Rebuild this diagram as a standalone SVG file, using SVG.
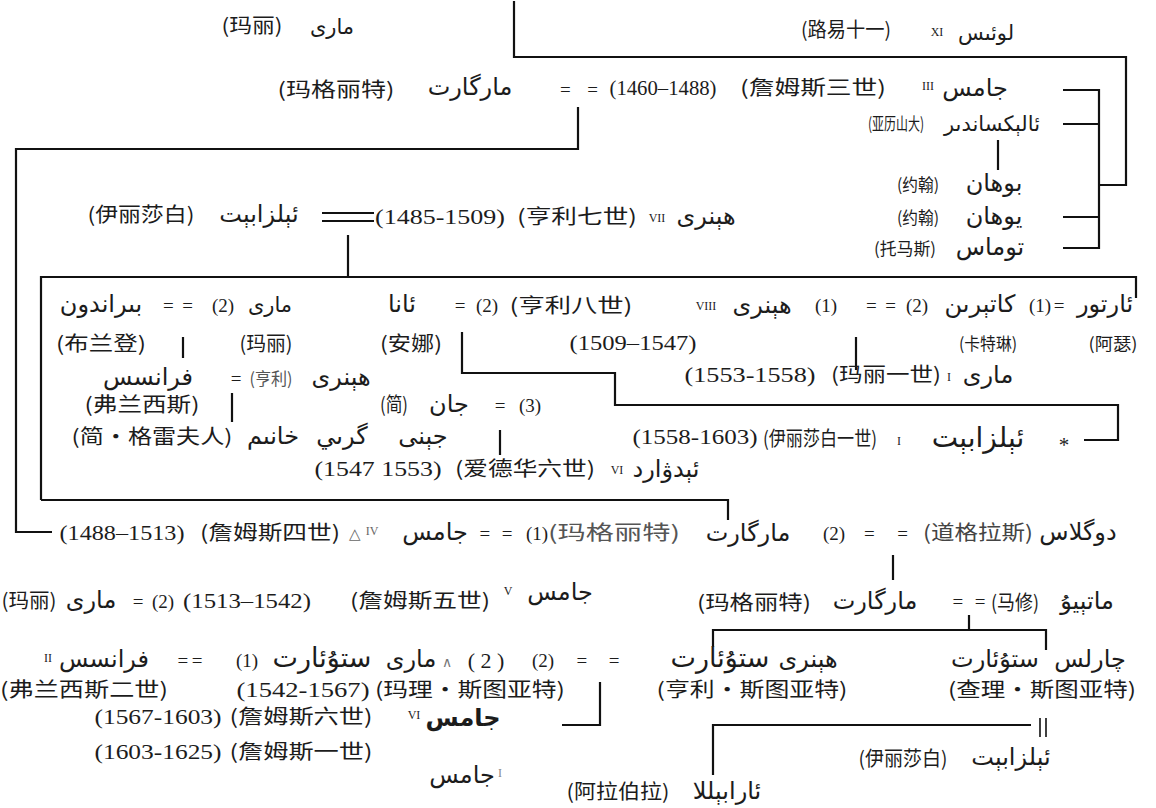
<svg xmlns="http://www.w3.org/2000/svg" width="1156" height="808" viewBox="0 0 1156 808">
<style>
text{text-anchor:middle;fill:#1c1c1c}
.zh{font-family:"Noto Sans CJK SC",sans-serif;font-size:20px}
.zs{font-family:"Noto Sans CJK SC",sans-serif;font-size:17px}
.num{font-family:"Liberation Serif",serif;font-size:21px}
.ar{font-family:"DejaVu Sans",sans-serif;font-size:21px}
.al{font-family:"DejaVu Sans",sans-serif;font-size:24px}
.rn{font-family:"Liberation Serif",serif;font-size:12px}
.eq{font-family:"Liberation Serif",serif;font-size:19px}
.sm{font-size:19px}
.ln{fill:none;stroke:#111;stroke-width:2.2}
</style>
<rect width="1156" height="808" fill="#fff"/>
<g id="connectors" class="ln">
<path d="M514,1V57H1126V185H1099"/>
<path d="M1063,90H1099V248H1063M1063,124H1099M1063,217H1099"/>
<path d="M998,140V170"/>
<path d="M578,107V149H16V532H52"/>
<path d="M322,213H374M322,221H374"/>
<path d="M348,235V277"/>
<path d="M41,500V277H1136V298"/>
<path d="M41,500H728V520"/>
<path d="M183,337V358"/>
<path d="M232,393V422"/>
<path d="M462,332V373H615V405H1118V440H1084"/>
<path d="M856,337V370"/>
<path d="M500,430V455"/>
<path d="M893,555V580"/>
<path d="M969,615V630"/>
<path d="M713,647V630H1046V650"/>
<path d="M600,682V725H562"/>
<path d="M713,775V725H1031"/>
<path d="M1040,718V737M1046,718V737" style="stroke-width:1.6"/>
</g>
<g id="marriages">
<text class="eq" x="579" y="96" textLength="38">= =</text>
<text class="eq" x="178" y="312" textLength="30">= =</text>
<text class="num sm" x="223" y="312">(2)</text>
<text class="eq" x="460" y="312">=</text>
<text class="num sm" x="487" y="312">(2)</text>
<text class="num sm" x="826" y="312">(1)</text>
<text class="eq" x="881" y="312" textLength="30">= =</text>
<text class="num sm" x="917" y="312">(2)</text>
<text class="num sm" x="1040" y="312">(1)</text>
<text class="eq" x="1059" y="312">=</text>
<text class="eq" x="236" y="385">=</text>
<text class="eq" x="500" y="412">=</text>
<text class="num sm" x="530" y="412">(3)</text>
<text class="eq" x="496" y="540" textLength="33">= =</text>
<text class="num sm" x="537" y="540">(1)</text>
<text class="num sm" x="834" y="540">(2)</text>
<text class="eq" x="886" y="540" textLength="44">= =</text>
<text class="eq" x="138" y="608">=</text>
<text class="num sm" x="163" y="608">(2)</text>
<text class="eq" x="969" y="608" textLength="33">= =</text>
<text class="eq" x="190" y="667" textLength="25">= =</text>
<text class="num sm" x="247" y="667">(1)</text>
<text class="eq" x="447" y="667" style="font-size:14px;fill:#777">∧</text>
<text class="num" x="486" y="668" style="font-size:22px">( 2 )</text>
<text class="num sm" x="543" y="667">(2)</text>
<text class="eq" x="598" y="667" textLength="43">= =</text>
</g>
<g id="n-mary-york"><text class="zh" x="252" y="33" textLength="61" lengthAdjust="spacingAndGlyphs">(玛丽)</text><text class="ar" x="332" y="34">مارى</text></g>
<g id="n-louis-xi"><text class="zh" x="846" y="37" textLength="90" lengthAdjust="spacingAndGlyphs">(路易十一)</text><text class="rn" x="937" y="36">XI</text><text class="ar" x="986" y="40">لوئىس</text></g>
<g id="n-margaret-denmark"><text class="zh" x="336" y="97" textLength="117" lengthAdjust="spacingAndGlyphs">(玛格丽特)</text><text class="al" x="470" y="95">مارگارت</text></g>
<g id="n-james-iii"><text class="num" x="663" y="95" textLength="107" lengthAdjust="spacingAndGlyphs">(1460–1488)</text><text class="zh" x="813" y="95" textLength="146" lengthAdjust="spacingAndGlyphs">(詹姆斯三世)</text><text class="rn" x="928" y="90">III</text><text class="al" x="975" y="96">جامس</text></g>
<g id="n-alexander"><text class="zs" x="896" y="130" textLength="56" lengthAdjust="spacingAndGlyphs">(亚历山大)</text><text class="ar" x="992" y="131">ئالېكساندىر</text></g>
<g id="n-john-1"><text class="zs" x="918" y="191" textLength="42" lengthAdjust="spacingAndGlyphs">(约翰)</text><text class="al" x="994" y="191">بوهان</text></g>
<g id="n-john-2"><text class="zs" x="918" y="224" textLength="42" lengthAdjust="spacingAndGlyphs">(约翰)</text><text class="al" x="994" y="224">يوهان</text></g>
<g id="n-thomas"><text class="zs" x="905" y="255" textLength="62" lengthAdjust="spacingAndGlyphs">(托马斯)</text><text class="al" x="990" y="255">توماس</text></g>
<g id="n-elizabeth-york"><text class="zh" x="141" y="222" textLength="107" lengthAdjust="spacingAndGlyphs">(伊丽莎白)</text><text class="al" x="259" y="222">ئېلزابېت</text></g>
<g id="n-henry-vii"><text class="num" x="440" y="224" textLength="130" lengthAdjust="spacingAndGlyphs">(1485-1509)</text><text class="zh" x="577" y="224" textLength="120" lengthAdjust="spacingAndGlyphs">(亨利七世)</text><text class="rn" x="657" y="222">VII</text><text class="al" x="706" y="224">هېنرى</text></g>
<g id="n-brandon"><text class="al" x="101" y="312">بىراندون</text><text class="zh" x="101" y="351" textLength="90" lengthAdjust="spacingAndGlyphs">(布兰登)</text></g>
<g id="n-mary-tudor"><text class="ar" x="270" y="312">مارى</text><text class="zh" x="266" y="351" textLength="53" lengthAdjust="spacingAndGlyphs">(玛丽)</text></g>
<g id="n-anne"><text class="al" x="402" y="312">ئانا</text><text class="zh" x="411" y="351" textLength="62" lengthAdjust="spacingAndGlyphs">(安娜)</text></g>
<g id="n-henry-viii"><text class="zh" x="571" y="313" textLength="123" lengthAdjust="spacingAndGlyphs">(亨利八世)</text><text class="rn" x="706" y="310">VIII</text><text class="al" x="762" y="313">هېنرى</text><text class="num" x="633" y="350" textLength="127" lengthAdjust="spacingAndGlyphs">(1509–1547)</text></g>
<g id="n-catherine"><text class="al" x="980" y="312">كاتېرىن</text><text class="zs" x="988" y="350" textLength="58" lengthAdjust="spacingAndGlyphs">(卡特琳)</text></g>
<g id="n-arthur"><text class="al" x="1105" y="312">ئارتور</text><text class="zs" x="1113" y="350" textLength="49" lengthAdjust="spacingAndGlyphs">(阿瑟)</text></g>
<g id="n-frances"><text class="al" x="148" y="385">فرانسس</text><text class="zh" x="142" y="412" textLength="115" lengthAdjust="spacingAndGlyphs">(弗兰西斯)</text></g>
<g id="n-henry-grey"><text class="zs" x="271" y="385" textLength="43" lengthAdjust="spacingAndGlyphs" style="fill:#555">(亨利)</text><text class="al" x="341" y="385">هېنرى</text></g>
<g id="n-mary-i"><text class="num" x="750" y="382" textLength="131" lengthAdjust="spacingAndGlyphs">(1553-1558)</text><text class="zh" x="886" y="382" textLength="110" lengthAdjust="spacingAndGlyphs">(玛丽一世)</text><text class="rn" x="949" y="381">I</text><text class="al" x="988" y="383">مارى</text></g>
<g id="n-jane-seymour"><text class="zh" x="394" y="412" textLength="28" lengthAdjust="spacingAndGlyphs">(简)</text><text class="al" x="449" y="412">جان</text></g>
<g id="n-jane-grey"><text class="zh" x="152" y="444" textLength="161" lengthAdjust="spacingAndGlyphs">(简・格雷夫人)</text><text class="al" x="273" y="444">خانىم</text><text class="al" x="342" y="444">گرىي</text><text class="al" x="423" y="444">جېنى</text><text class="num" x="378" y="476" textLength="127" lengthAdjust="spacingAndGlyphs">(1547 1553)</text></g>
<g id="n-elizabeth-i"><text class="num" x="695" y="444" textLength="125" lengthAdjust="spacingAndGlyphs">(1558-1603)</text><text class="zh" x="820" y="446" textLength="114" lengthAdjust="spacingAndGlyphs">(伊丽莎白一世)</text><text class="rn" x="899" y="445">I</text><text class="al" x="978" y="447" style="font-size:28px">ئېلزابېت</text><text class="num" x="1064" y="452">*</text></g>
<g id="n-edward-vi"><text class="zh" x="525" y="476" textLength="140" lengthAdjust="spacingAndGlyphs">(爱德华六世)</text><text class="rn" x="617" y="474">VI</text><text class="al" x="666" y="477">ئېدۋارد</text></g>
<g id="n-james-iv"><text class="num" x="122" y="540" textLength="125" lengthAdjust="spacingAndGlyphs">(1488–1513)</text><text class="zh" x="270" y="540" textLength="140" lengthAdjust="spacingAndGlyphs">(詹姆斯四世)</text><text class="eq" x="355" y="539" style="font-size:15px;fill:#666">△</text><text class="rn" x="372" y="535" style="fill:#666">IV</text><text class="al" x="435" y="540">جامس</text></g>
<g id="n-margaret-tudor"><text class="zh" x="614" y="540" textLength="132" lengthAdjust="spacingAndGlyphs" style="fill:#555">(玛格丽特)</text><text class="al" x="748" y="541">مارگارت</text></g>
<g id="n-douglas"><text class="zh" x="978" y="540" textLength="110" lengthAdjust="spacingAndGlyphs" style="fill:#444">(道格拉斯)</text><text class="al" x="1078" y="540">دوگلاس</text></g>
<g id="n-mary-guise"><text class="zh" x="29" y="608" textLength="55" lengthAdjust="spacingAndGlyphs">(玛丽)</text><text class="al" x="91" y="608">مارى</text></g>
<g id="n-james-v"><text class="num" x="247" y="608" textLength="128" lengthAdjust="spacingAndGlyphs">(1513–1542)</text><text class="zh" x="420" y="608" textLength="140" lengthAdjust="spacingAndGlyphs">(詹姆斯五世)</text><text class="rn" x="508" y="595">V</text><text class="al" x="560" y="600">جامس</text></g>
<g id="n-margaret-douglas"><text class="zh" x="754" y="610" textLength="114" lengthAdjust="spacingAndGlyphs">(玛格丽特)</text><text class="al" x="875" y="609">مارگارت</text></g>
<g id="n-matthew"><text class="zh" x="1015" y="610" textLength="48" lengthAdjust="spacingAndGlyphs">(马修)</text><text class="al" x="1087" y="609">ماتېيۇ</text></g>
<g id="n-francis-ii"><text class="rn" x="48" y="662">II</text><text class="al" x="104" y="667">فرانسس</text><text class="zh" x="84" y="697" textLength="168" lengthAdjust="spacingAndGlyphs">(弗兰西斯二世)</text></g>
<g id="n-mary-stuart"><text class="al" x="322" y="667" style="font-size:27px">ستۇئارت</text><text class="al" x="411" y="667">مارى</text><text class="num" x="303" y="697" textLength="133" lengthAdjust="spacingAndGlyphs">(1542-1567)</text><text class="zh" x="470" y="697" textLength="190" lengthAdjust="spacingAndGlyphs">(玛理・斯图亚特)</text></g>
<g id="n-henry-stuart"><text class="al" x="720" y="667" style="font-size:27px">ستۇئارت</text><text class="al" x="808" y="667">هېنرى</text><text class="zh" x="752" y="697" textLength="191" lengthAdjust="spacingAndGlyphs">(亨利・斯图亚特)</text></g>
<g id="n-charles-stuart"><text class="al" x="995" y="667">ستۇئارت</text><text class="al" x="1090" y="667">چارلس</text><text class="zh" x="1042" y="697" textLength="188" lengthAdjust="spacingAndGlyphs">(查理・斯图亚特)</text></g>
<g id="n-james-vi"><text class="num" x="158" y="724" textLength="127" lengthAdjust="spacingAndGlyphs">(1567-1603)</text><text class="zh" x="301" y="724" textLength="143" lengthAdjust="spacingAndGlyphs">(詹姆斯六世)</text><text class="rn" x="414" y="719">VI</text><text class="al" x="463" y="726" style="font-weight:bold">جامس</text></g>
<g id="n-james-i"><text class="num" x="158" y="759" textLength="127" lengthAdjust="spacingAndGlyphs">(1603-1625)</text><text class="zh" x="301" y="759" textLength="143" lengthAdjust="spacingAndGlyphs">(詹姆斯一世)</text><text class="al" x="462" y="783">جامس</text><text class="rn" x="500" y="777" style="fill:#888">I</text></g>
<g id="n-elizabeth-cavendish"><text class="zh" x="903" y="766" textLength="89" lengthAdjust="spacingAndGlyphs">(伊丽莎白)</text><text class="al" x="1011" y="765">ئېلزابېت</text></g>
<g id="n-arbella"><text class="zh" x="618" y="799" textLength="103" lengthAdjust="spacingAndGlyphs">(阿拉伯拉)</text><text class="al" x="727" y="799">ئارابېللا</text></g>
</svg>
